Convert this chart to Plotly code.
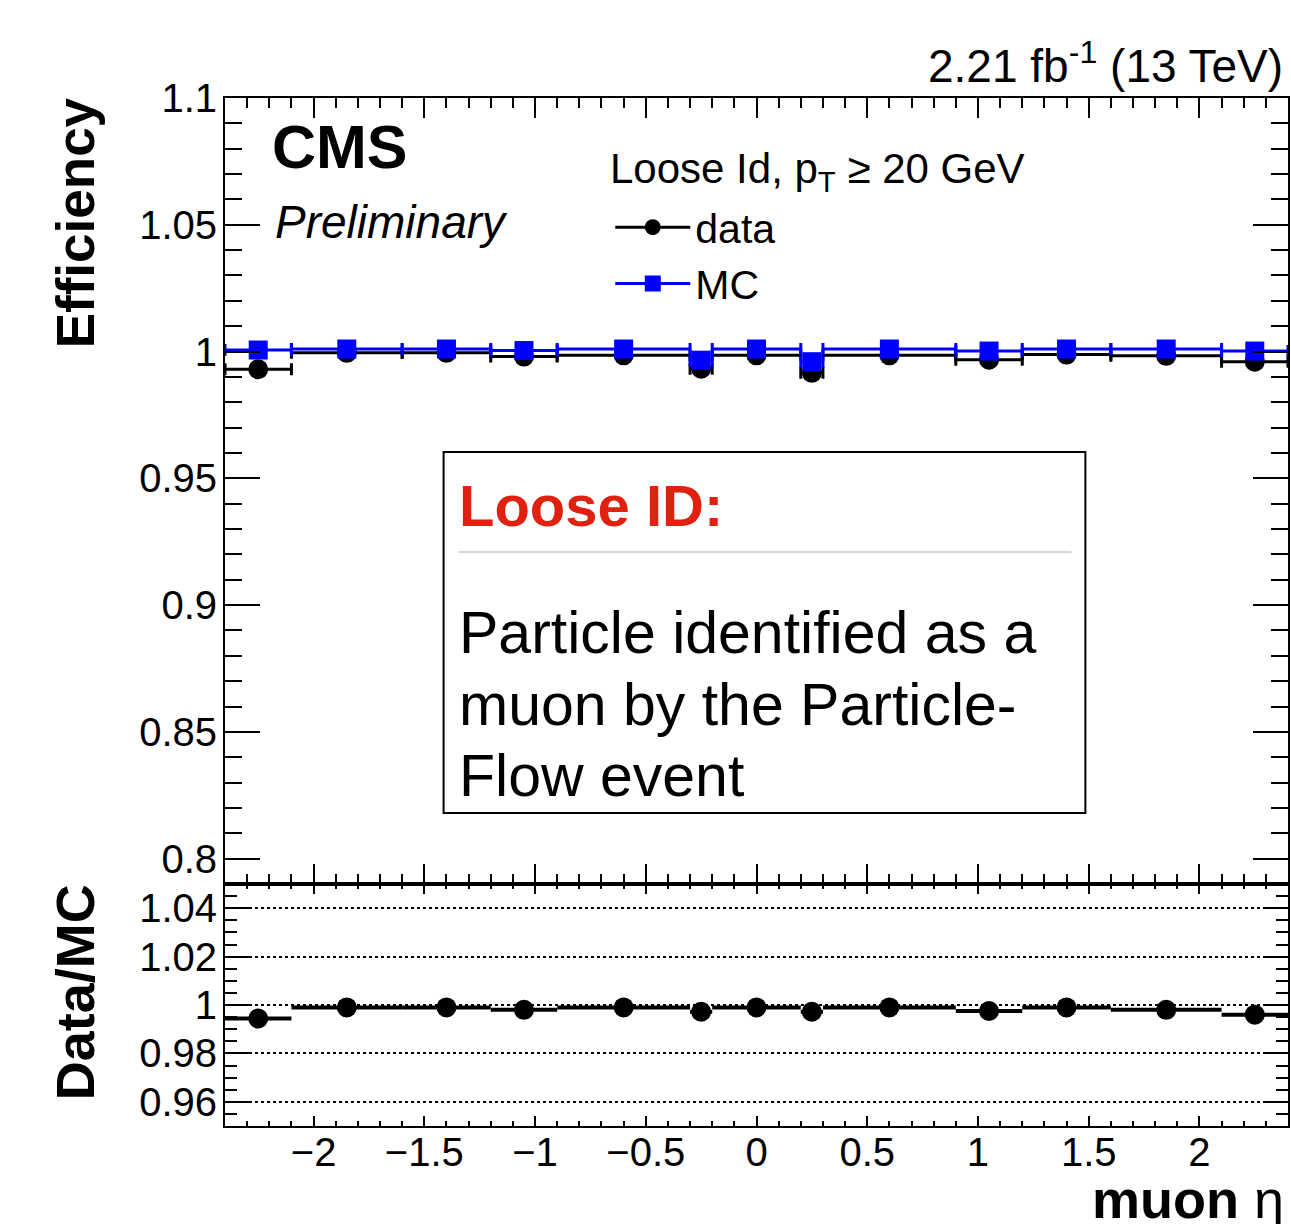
import plotly.graph_objects as go

# ---------------- data ----------------
eta_edges = [-2.4, -2.1, -1.6, -1.2, -0.9, -0.3, -0.2, 0.2, 0.3, 0.9, 1.2, 1.6, 2.1, 2.4]
eff_data = [0.993, 0.9995, 0.9995, 0.998, 0.9985, 0.9932, 0.9985, 0.9916, 0.9985, 0.9968, 0.9988, 0.9983, 0.996]
eff_mc = [1.0006, 1.001, 1.001, 1.0004, 1.001, 0.9966, 1.001, 0.996, 1.001, 1.0002, 1.001, 1.001, 1.0002]
ratio = [0.9944, 0.9990, 0.9990, 0.998, 0.9990, 0.9972, 0.9990, 0.9972, 0.9990, 0.9975, 0.9990, 0.998, 0.996]

eta_centers = [(a + b) / 2 for a, b in zip(eta_edges[:-1], eta_edges[1:])]
eta_halfw = [(b - a) / 2 for a, b in zip(eta_edges[:-1], eta_edges[1:])]

# ---------------- layout geometry ----------------
W, H = 1291, 1224
L, R, T, B = 225, 1, 98, 98
PW, PH = W - L - R, H - T - B
split = (1126 - 884) / PH

def px(x):
    return (x - L) / PW

def py(y):
    return (H - B - y) / PH

FONT = "Liberation Sans, Arial, Helvetica, sans-serif"
BLUE = "#0000ff"

fig = go.Figure()

# top panel
fig.add_trace(go.Scatter(
    x=eta_centers, y=eff_data, mode="markers", showlegend=False,
    marker=dict(symbol="circle", size=20, color="black"),
    error_x=dict(type="data", array=eta_halfw, color="black", thickness=3, width=6),
    xaxis="x", yaxis="y"))
fig.add_trace(go.Scatter(
    x=eta_centers, y=eff_mc, mode="markers", showlegend=False,
    marker=dict(symbol="square", size=19, color=BLUE),
    error_x=dict(type="data", array=eta_halfw, color=BLUE, thickness=3, width=6),
    xaxis="x", yaxis="y"))

# legend entries
fig.add_trace(go.Scatter(x=[None], y=[None], mode="lines+markers", name="data",
                         line=dict(color="black", width=3),
                         marker=dict(symbol="circle", size=16, color="black"),
                         xaxis="x", yaxis="y"))
fig.add_trace(go.Scatter(x=[None], y=[None], mode="lines+markers", name="MC",
                         line=dict(color=BLUE, width=3),
                         marker=dict(symbol="square", size=17, color=BLUE),
                         xaxis="x", yaxis="y"))

# ratio panel
fig.add_trace(go.Scatter(
    x=eta_centers, y=ratio, mode="markers", showlegend=False,
    marker=dict(symbol="circle", size=20, color="black"),
    error_x=dict(type="data", array=eta_halfw, color="black", thickness=4, width=0),
    xaxis="x2", yaxis="y2"))

axis_common = dict(showline=True, linecolor="black", linewidth=2, mirror="allticks",
                   ticks="inside", tickcolor="black", tickwidth=2, zeroline=False,
                   tickfont=dict(family=FONT, size=40, color="black"))

fig.update_layout(
    width=W, height=H,
    margin=dict(l=L, r=R, t=T, b=B, pad=0),
    paper_bgcolor="white", plot_bgcolor="white",
    font=dict(family=FONT, color="black"),
    xaxis=dict(**axis_common, domain=[0, 1], anchor="y", range=[-2.4, 2.4],
               dtick=0.5, tick0=0, ticklen=20, showticklabels=False, showgrid=False,
               minor=dict(dtick=0.1, ticklen=10, tickcolor="black", tickwidth=2, ticks="inside", showgrid=False)),
    yaxis=dict(**axis_common, domain=[split, 1], anchor="x", range=[0.79, 1.1],
               dtick=0.05, tick0=0, ticklen=35, showgrid=False, ticklabelstandoff=-2,
               minor=dict(dtick=0.01, ticklen=17, tickcolor="black", tickwidth=2, ticks="inside", showgrid=False)),
    xaxis2=dict(**axis_common, domain=[0, 1], anchor="y2", range=[-2.4, 2.4], matches="x",
                dtick=0.5, tick0=0, ticklen=10, showgrid=False, ticklabelstandoff=-10,
                minor=dict(dtick=0.1, ticklen=5, tickcolor="black", tickwidth=2, ticks="inside", showgrid=False)),
    yaxis2=dict(**axis_common, domain=[0, split], anchor="x2", range=[0.95, 1.05],
                dtick=0.02, tick0=0, ticklen=25, ticklabelstandoff=-2,
                showgrid=True, gridcolor="black", gridwidth=1.5, griddash="dot",
                minor=dict(dtick=0.005, ticklen=12, tickcolor="black", tickwidth=2, ticks="inside", showgrid=False)),
    legend=dict(x=px(611), y=py(194), xanchor="left", yanchor="top",
                bgcolor="rgba(0,0,0,0)", itemwidth=75,
                font=dict(family=FONT, size=41, color="black")),
)

annotations = [
    dict(text="2.21 fb<sup>-1</sup> (13 TeV)", x=px(1287), y=py(63), xanchor="right", yanchor="middle",
         font=dict(size=46)),
    dict(text="<b>CMS</b>", x=px(270), y=py(147), xanchor="left", yanchor="middle", font=dict(size=61)),
    dict(text="<i>Preliminary</i>", x=px(273), y=py(222), xanchor="left", yanchor="middle", font=dict(size=46)),
    dict(text="Loose Id, p<sub>T</sub> \u2265 20 GeV", x=px(609), y=py(172), xanchor="left", yanchor="middle",
         font=dict(size=42)),
    dict(text="<b>Loose ID:</b>", x=px(457), y=py(505), xanchor="left", yanchor="middle",
         font=dict(size=58, color="#e0210f")),
    dict(text="Particle identified as a", x=px(457), y=py(633), xanchor="left", yanchor="middle", font=dict(size=59)),
    dict(text="muon by the Particle-", x=px(457), y=py(705), xanchor="left", yanchor="middle", font=dict(size=59)),
    dict(text="Flow event", x=px(457), y=py(776), xanchor="left", yanchor="middle", font=dict(size=59)),
    dict(text="<b>Efficiency</b>", x=px(75), y=py(223), xanchor="center", yanchor="middle",
         textangle=-90, font=dict(size=53)),
    dict(text="<b>Data/MC</b>", x=px(75), y=py(992), xanchor="center", yanchor="middle",
         textangle=-90, font=dict(size=54)),
    dict(text="<b>muon</b> \u03b7", x=px(1288), y=py(1199), xanchor="right", yanchor="middle", font=dict(size=54)),
]
for a in annotations:
    a.update(xref="paper", yref="paper", showarrow=False)
    a["font"] = dict(family=FONT, color=a["font"].get("color", "black"), size=a["font"]["size"])
fig.update_layout(annotations=annotations)

fig.update_layout(shapes=[
    dict(type="rect", xref="paper", yref="paper", x0=px(444), x1=px(1087), y0=py(813), y1=py(452),
         line=dict(color="black", width=2), fillcolor="white", layer="above"),
    dict(type="line", xref="paper", yref="paper", x0=px(459), x1=px(1073), y0=py(552), y1=py(552),
         line=dict(color="#aaaaaa", width=1), layer="above"),
])

fig.write_html("out.html")
